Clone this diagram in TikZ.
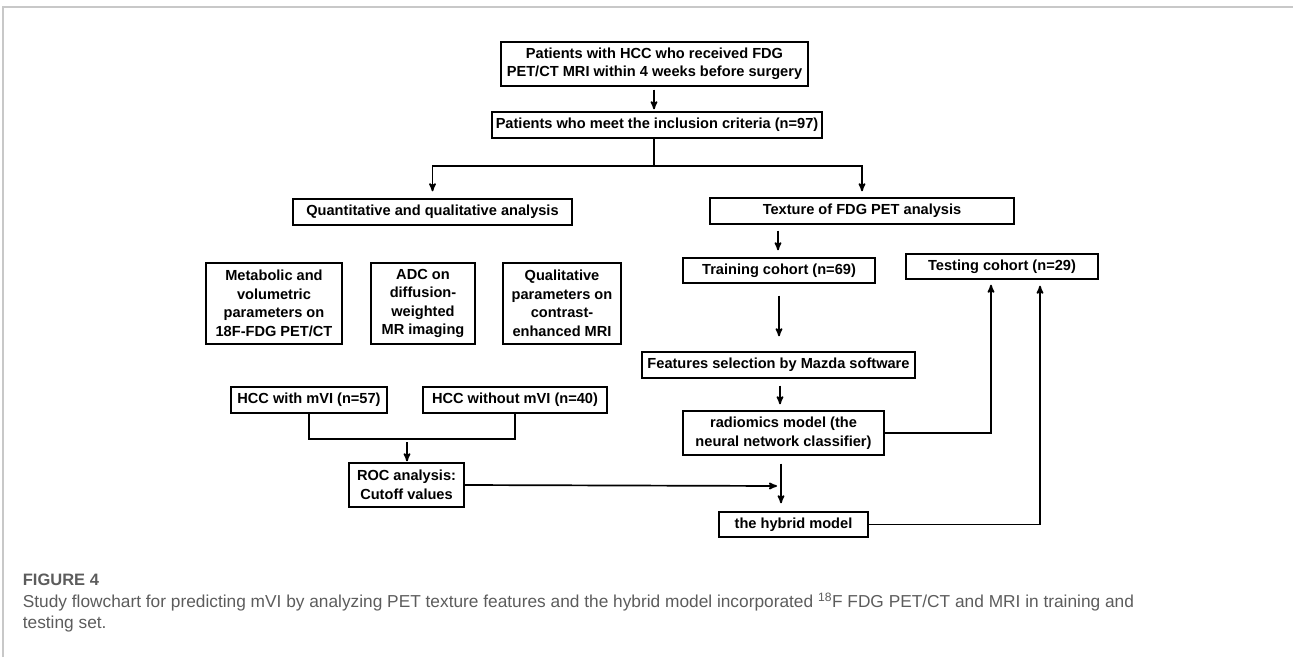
\documentclass[tikz,border=0pt]{standalone}
\usepackage{fontspec}
\setmainfont{Liberation Sans}
\setsansfont{Liberation Sans}
\usepackage{color}
\usetikzlibrary{arrows}
\usetikzlibrary{positioning}
\definecolor{capgray}{HTML}{5C5C5C}
\definecolor{framegray}{HTML}{C8C8C8}

\begin{document}
\begin{tikzpicture}[x=1pt,y=-1pt,>=stealth',line width=1.7pt,
                    main node/.style={draw,rectangle,line width=1.4pt,inner sep=1pt,align=center,
                                      font=\sffamily\bfseries\fontsize{14.6}{18.5}\selectfont}]

  \useasboundingbox (0,0) rectangle (1293,657);
  \draw[framegray,line width=1.2pt] (3,657) -- (3,7) -- (1293,7);

  % left and right branch
  \node[main node, minimum width=307pt, minimum height=44pt] (top) at (654.5,64)
       {Patients with HCC who received FDG\\PET/CT MRI within 4 weeks before surgery};
  \node[main node, minimum width=330pt, minimum height=26pt] (incl) at (657,125)
       {Patients who meet the inclusion criteria (n=97)};
  \node[main node, minimum width=279pt, minimum height=26pt] (quant) at (432.5,212)
       {Quantitative and qualitative analysis};
  \node[main node, minimum width=304pt, minimum height=26pt] (texture) at (862,211)
       {Texture of FDG PET analysis};

  \node[main node, minimum width=136pt, minimum height=81pt] (metab) at (274,303.5)
       {Metabolic and\\volumetric\\parameters on\\18F-FDG PET/CT};
  \node[main node, minimum width=104pt, minimum height=81pt] (adc) at (423,303.5)
       {ADC on\\diffusion-\\weighted\\MR imaging};
  \node[main node, minimum width=118pt, minimum height=81pt] (qual) at (562,303.5)
       {Qualitative\\parameters on\\contrast-\\enhanced MRI};
  \node[main node, minimum width=156pt, minimum height=26pt] (with) at (309,400)
       {HCC with mVI (n=57)};
  \node[main node, minimum width=184pt, minimum height=26pt] (without) at (515,400)
       {HCC without mVI (n=40)};
  \node[main node, minimum width=115pt, minimum height=44pt] (roc) at (406.5,485)
       {ROC analysis:\\Cutoff values};

  \node[main node, minimum width=192pt, minimum height=25pt] (train) at (779,270.5)
       {Training cohort (n=69)};
  \node[main node, minimum width=192pt, minimum height=25pt] (test) at (1002,266.5)
       {Testing cohort (n=29)};
  \node[main node, minimum width=273pt, minimum height=26pt] (feat) at (778.5,365)
       {Features selection by Mazda software};
  \node[main node, minimum width=201pt, minimum height=44pt] (radio) at (783.5,433)
       {radiomics model (the\\neural network classifier)};
  \node[main node, minimum width=149pt, minimum height=25pt] (hybrid) at (793.5,524.5)
       {the hybrid model};

  \coordinate (split) at (654,166);
  \coordinate (brk) at (407,439);
  \coordinate (merge) at (781,486);

  \path[->]
    (top.south -| split) edge[shorten <=3pt, shorten >=2pt] (incl.north -| split)
    (texture.south -| 778,0) edge[shorten <=6pt, shorten >=7pt] (train.north -| 778,0)
    (train.south) edge[shorten <=12pt, shorten >=15pt] (train.south |- feat.north)
    (feat.south -| 780,0) edge[shorten <=7pt, shorten >=6pt] (radio.north -| 780,0)
    (radio.south -| merge) edge[shorten <=8pt, shorten >=8pt] (hybrid.north -| merge)
    (brk) edge[shorten <=3pt, shorten >=1pt] (roc.north -| brk)
    (roc.east) edge[shorten >=4pt] (merge);

  \draw (incl.south -| split) -- (split);
  \draw[->, shorten >=7pt] (split) -| (quant.north);
  \draw[->, shorten >=6pt] (split) -| (texture.north);
  \draw (with.south) |- (brk) -| (without.south);
  \draw[->, shorten >=5pt] (radio.east) -| ([xshift=-11pt]test.south);
  \draw[->, shorten >=6pt] (hybrid.east) -| ([xshift=38pt]test.south);

  % caption
  \node[anchor=base west, inner sep=0, text=capgray,
        font=\sffamily\bfseries\fontsize{16.5}{21}\selectfont] (fig) at (22,585) {FIGURE 4};
  \node[anchor=north west, inner sep=0, align=left, text=capgray,
        font=\sffamily\fontsize{17.3}{21}\selectfont] (cap) at (22,592)
       {Study flowchart for predicting mVI by analyzing PET texture features and the hybrid model incorporated \textsuperscript{18}F FDG PET/CT and MRI in training and\\testing set.};

\end{tikzpicture}
\end{document}
